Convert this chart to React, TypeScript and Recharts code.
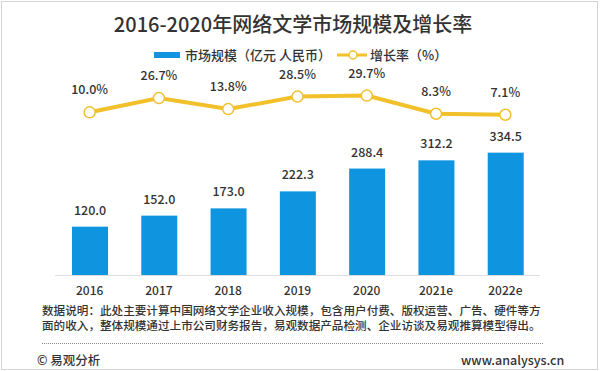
import { ComposedChart, Bar, Line, XAxis, YAxis, LabelList } from "recharts"

const years = ["2016", "2017", "2018", "2019", "2020", "2021e", "2022e"]
const marketSize = [120.0, 152.0, 173.0, 222.3, 288.4, 312.2, 334.5]
const growthRate = [10.0, 26.7, 13.8, 28.5, 29.7, 8.3, 7.1]

const BLUE = "#0f95e0"
const GOLD = "#f1c02b"
const FONT = '"Noto Sans CJK SC", "Noto Sans", sans-serif'

const data = years.map((y, i) => ({ year: y, size: marketSize[i], rate: growthRate[i] }))

// bars run down to the plot floor (the source axis doesn't start at zero)
function FloorBar(props: any) {
  const { x, y, width, height, background } = props
  const bottom = background ? background.y + background.height : y + height
  return <rect x={x} y={y} width={width} height={Math.max(0, bottom - y)} fill={BLUE} />
}

export default function App() {
  return (
    <div
      style={{
        position: "absolute",
        left: 0,
        top: 0,
        width: 600,
        height: 371,
        background: "#fff",
        fontFamily: FONT,
        color: "#333",
      }}
    >
      <div
        style={{
          position: "absolute",
          left: 1,
          top: 1,
          width: 595,
          height: 367,
          border: "1px solid #d4d4d4",
        }}
      />
      <div
        style={{
          position: "absolute",
          left: 0,
          width: 586,
          top: 10,
          lineHeight: "28px",
          textAlign: "center",
          fontSize: 20,
          fontWeight: 500,
          color: "#333",
        }}
      >
        2016-2020年网络文学市场规模及增长率
      </div>

      {/* legend */}
      <div style={{ position: "absolute", left: 154, top: 52, width: 26, height: 6, background: BLUE }} />
      <div style={{ position: "absolute", left: 185, top: 46, lineHeight: "18px", fontSize: 13, fontWeight: 500 }}>
        市场规模（亿元 人民币）
      </div>
      <svg style={{ position: "absolute", left: 336, top: 49 }} width={32} height={12}>
        <line x1={1} y1={6} x2={31} y2={6} stroke={GOLD} strokeWidth={3} />
        <circle cx={17} cy={6} r={4} fill="#fff" stroke={GOLD} strokeWidth={1.5} />
      </svg>
      <div style={{ position: "absolute", left: 370, top: 46, lineHeight: "18px", fontSize: 13, fontWeight: 500 }}>
        增长率（%）
      </div>

      <div style={{ position: "absolute", left: 0, top: 0 }}>
        <ComposedChart
          width={600}
          height={371}
          data={data}
          margin={{ top: 80, right: 60, bottom: 65.5, left: 55 }}
        >
          <XAxis
            dataKey="year"
            height={30}
            tickLine={false}
            tickMargin={5}
            axisLine={{ stroke: "#dddddd" }}
            tick={{ fontSize: 12, fill: "#333", fontFamily: FONT, fontWeight: 500 }}
            interval={0}
          />
          <YAxis yAxisId="size" hide domain={[-21.5, 545]} />
          <YAxis yAxisId="rate" hide orientation="right" domain={[-182, 48]} />
          <Bar yAxisId="size" dataKey="size" barSize={36} shape={FloorBar} isAnimationActive={false}>
            <LabelList
              dataKey="size"
              position="top"
              offset={12}
              formatter={(v: any) => Number(v).toFixed(1)}
              style={{ fontSize: 12.5, fill: "#333", fontFamily: FONT, fontWeight: 500 }}
            />
          </Bar>
          <Line
            yAxisId="rate"
            dataKey="rate"
            stroke={GOLD}
            strokeWidth={4}
            dot={{ r: 5.5, fill: "#fff", stroke: GOLD, strokeWidth: 1.5 }}
            activeDot={false}
            isAnimationActive={false}
          >
            <LabelList
              dataKey="rate"
              position="top"
              offset={18}
              formatter={(v: any) => Number(v).toFixed(1) + "%"}
              style={{ fontSize: 12.5, fill: "#333", fontFamily: FONT, fontWeight: 500 }}
            />
          </Line>
        </ComposedChart>
      </div>

      {/* footnote */}
      <div
        style={{
          position: "absolute",
          left: 42,
          top: 303,
          width: 505,
          fontSize: 11.6,
          lineHeight: "14.6px",
          fontWeight: 500,
          color: "#333",
        }}
      >
        数据说明：此处主要计算中国网络文学企业收入规模，包含用户付费、版权运营、广告、硬件等方面的收入，整体规模通过上市公司财务报告，易观数据产品检测、企业访谈及易观推算模型得出。
      </div>
      <div
        style={{
          position: "absolute",
          left: 42,
          top: 343,
          width: 501,
          borderTop: "1px dotted #888",
        }}
      />
      <div style={{ position: "absolute", left: 37, top: 351, lineHeight: "18px", fontSize: 12.5, fontWeight: 500 }}>
        © 易观分析
      </div>
      <div style={{ position: "absolute", left: 461, top: 351, lineHeight: "18px", fontSize: 12.5, fontWeight: 500 }}>
        www.analysys.cn
      </div>
    </div>
  )
}
